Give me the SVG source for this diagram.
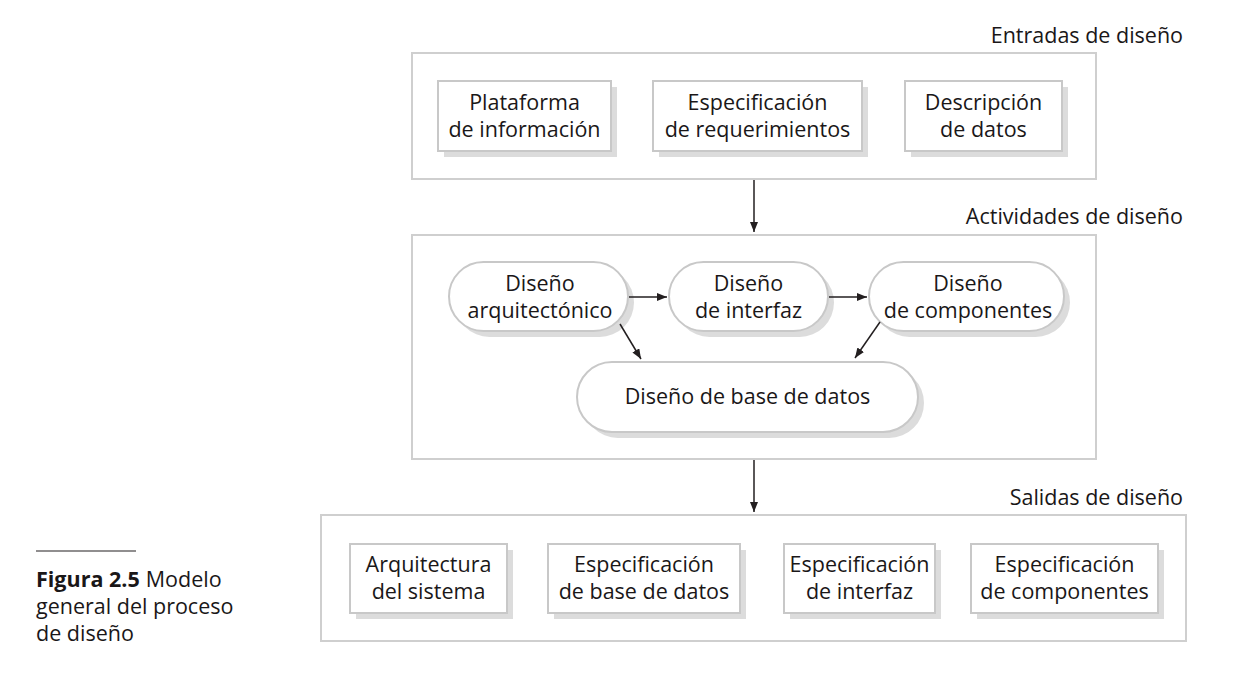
<svg xmlns="http://www.w3.org/2000/svg" width="1244" height="681" viewBox="0 0 1244 681">
<defs>
<style>
text{font-family:"Open Sans","Liberation Sans",sans-serif;font-size:21.5px;fill:#1a1718;}
.c{text-anchor:middle;}
.r{text-anchor:end;}
.outer{fill:#fff;stroke:#cfcfcf;stroke-width:2;}
.box{fill:#fff;stroke:#c8c8c8;stroke-width:2;}
.sh{fill:#dcdcdc;}
.ln{stroke:#231f20;stroke-width:1.5;fill:none;}
</style>
<marker id="ah" markerWidth="10" markerHeight="8" refX="10" refY="4" orient="auto" markerUnits="userSpaceOnUse">
<path d="M0,0 L10,4 L0,8 Z" fill="#231f20"/>
</marker>
</defs>
<rect width="1244" height="681" fill="#fff"/>

<g id="entradas">
<text class="r" x="1183" y="43">Entradas de diseño</text>
<rect class="outer" x="412" y="53" width="684" height="126"/>
</g>
<g id="plataforma">
<rect class="sh" x="444" y="87" width="173" height="70"/>
<rect class="box" x="438" y="81" width="173" height="70"/>
<text class="c" x="524.5" y="110">Plataforma</text>
<text class="c" x="524.5" y="137">de información</text>
</g>
<g id="espec_req">
<rect class="sh" x="659" y="87" width="209" height="70"/>
<rect class="box" x="653" y="81" width="209" height="70"/>
<text class="c" x="757.5" y="110">Especificación</text>
<text class="c" x="757.5" y="137">de requerimientos</text>
</g>
<g id="descripcion">
<rect class="sh" x="911" y="87" width="157" height="70"/>
<rect class="box" x="905" y="81" width="157" height="70"/>
<text class="c" x="983.5" y="110">Descripción</text>
<text class="c" x="983.5" y="137">de datos</text>
</g>

<g id="actividades">
<text class="r" x="1183" y="224">Actividades de diseño</text>
<rect class="outer" x="412" y="235" width="684" height="224"/>
</g>
<g id="arquitectonico">
<rect class="sh" x="455" y="268" width="179" height="69" rx="34.5"/>
<rect class="box" x="449" y="262" width="179" height="69" rx="34.5"/>
<text class="c" x="540" y="291">Diseño</text>
<text class="c" x="540" y="318">arquitectónico</text>
</g>
<g id="interfaz">
<rect class="sh" x="675" y="268" width="159" height="69" rx="34.5"/>
<rect class="box" x="669" y="262" width="159" height="69" rx="34.5"/>
<text class="c" x="748.5" y="291">Diseño</text>
<text class="c" x="748.5" y="318">de interfaz</text>
</g>
<g id="componentes">
<rect class="sh" x="875" y="268" width="195" height="69" rx="34.5"/>
<rect class="box" x="869" y="262" width="195" height="69" rx="34.5"/>
<text class="c" x="968" y="291">Diseño</text>
<text class="c" x="968" y="318">de componentes</text>
</g>
<g id="basedatos">
<rect class="sh" x="583" y="368" width="341" height="70" rx="35"/>
<rect class="box" x="577" y="362" width="341" height="70" rx="35"/>
<text class="c" x="747.5" y="404">Diseño de base de datos</text>
</g>

<g id="salidas">
<text class="r" x="1183" y="505">Salidas de diseño</text>
<rect class="outer" x="321" y="515" width="865" height="126"/>
</g>
<g id="arquitectura">
<rect class="sh" x="356" y="550" width="157" height="69"/>
<rect class="box" x="350" y="544" width="157" height="69"/>
<text class="c" x="428.5" y="572">Arquitectura</text>
<text class="c" x="428.5" y="599">del sistema</text>
</g>
<g id="espec_bd">
<rect class="sh" x="554" y="550" width="192" height="69"/>
<rect class="box" x="548" y="544" width="192" height="69"/>
<text class="c" x="644" y="572">Especificación</text>
<text class="c" x="644" y="599">de base de datos</text>
</g>
<g id="espec_interfaz">
<rect class="sh" x="790" y="550" width="151" height="69"/>
<rect class="box" x="784" y="544" width="151" height="69"/>
<text class="c" x="859.5" y="572">Especificación</text>
<text class="c" x="859.5" y="599">de interfaz</text>
</g>
<g id="espec_comp">
<rect class="sh" x="977" y="550" width="187" height="69"/>
<rect class="box" x="971" y="544" width="187" height="69"/>
<text class="c" x="1064.5" y="572">Especificación</text>
<text class="c" x="1064.5" y="599">de componentes</text>
</g>

<g id="connectors">
<line class="ln" x1="754" y1="180" x2="754" y2="232" marker-end="url(#ah)"/>
<line class="ln" x1="754" y1="460" x2="754" y2="512" marker-end="url(#ah)"/>
<line class="ln" x1="629" y1="297" x2="667" y2="297" marker-end="url(#ah)"/>
<line class="ln" x1="829" y1="297" x2="867" y2="297" marker-end="url(#ah)"/>
<line class="ln" x1="620" y1="324" x2="641" y2="359" marker-end="url(#ah)"/>
<line class="ln" x1="880" y1="322" x2="855" y2="358" marker-end="url(#ah)"/>
</g>

<g id="caption">
<line x1="36" y1="551" x2="136" y2="551" stroke="#231f20" stroke-width="1.2"/>
<text x="36" y="587"><tspan font-weight="bold">Figura 2.5</tspan><tspan dx="6">Modelo</tspan></text>
<text x="36" y="614">general del proceso</text>
<text x="36" y="641">de diseño</text>
</g>
</svg>
